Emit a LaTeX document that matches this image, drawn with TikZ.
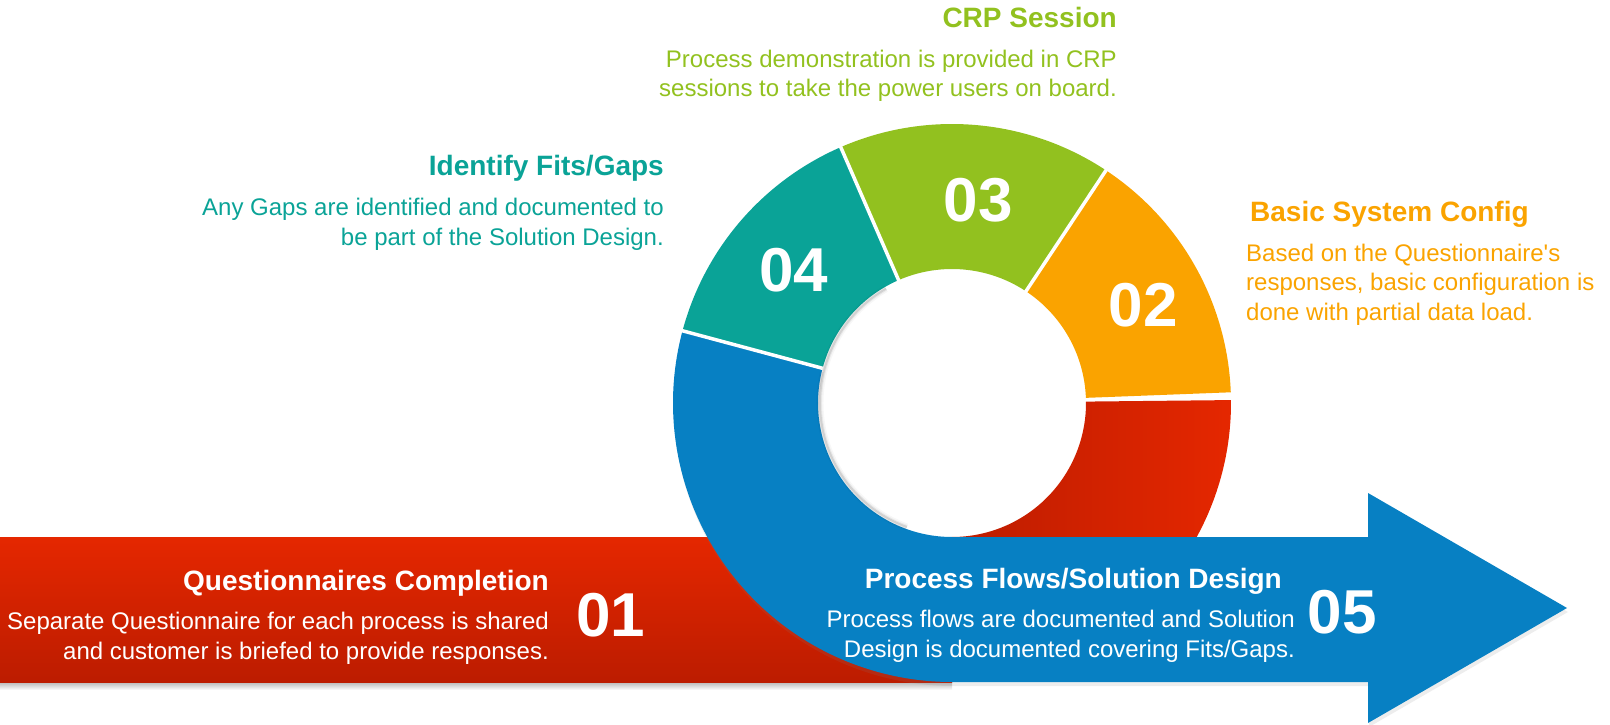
\documentclass[tikz,border=0pt]{standalone}
\usepackage{fontspec}
\setmainfont{Liberation Sans}
\usetikzlibrary{positioning,calc,shadows}
\definecolor{crpgreen}{HTML}{92C11F}
\definecolor{fitteal}{HTML}{0AA397}
\definecolor{cfgorange}{HTML}{FAA300}
\definecolor{flowblue}{HTML}{0780C3}
\definecolor{qred}{HTML}{E52700}
\definecolor{qreddark}{HTML}{BC1C00}
\tikzset{
  ttl/.style={font=\fontsize{28}{32}\selectfont\bfseries,inner sep=0pt},
  txt/.style={font=\fontsize{24}{29.5}\selectfont,inner sep=0pt},
  num/.style={font=\fontsize{62}{62}\selectfont\bfseries,text=white,inner sep=0pt},
  gap/.style={white,line width=3.5pt},
  shd/.style={drop shadow={opacity=0.14,shadow xshift=1pt,shadow yshift=-4pt}},
}

\begin{document}
\begin{tikzpicture}[x=1pt,y=1pt]
  \useasboundingbox (0,0) rectangle (1610,724);
  \coordinate (c) at (952,321);

  % step 01: red band entering the ring
  \shade[top color=black!28,bottom color=white] (0,34) rectangle (952,42);
  \shade[top color=qred,bottom color=qreddark] (0,42) rectangle (952,187);
  \shade[left color=qreddark,right color=qred] ($(c)+(-90:279)$) arc(-90:0.6:279)
        -- ($(c)+(0.6:134)$) arc(0.6:-90:134) -- cycle;

  % steps 02 to 04
  \foreach \a/\b/\col in {2.2/56.5/cfgorange,56.5/113.5/crpgreen,113.5/165/fitteal}{
    \fill[\col] ($(c)+(\a:279)$) arc(\a:\b:279) -- ($(c)+(\b:134)$) arc(\b:\a:134) -- cycle;}

  % step 05: blue ring part and arrow
  \fill[flowblue,shd] ($(c)+(165:279)$) arc(165:270:279) -- (1368,42) -- (1368,1)
        -- (1567,116) -- (1368,231) -- (1368,187) -- ($(c)+(-90:134)$) arc(270:165:134) -- cycle;

  \foreach \a in {56.5,113.5,165}{\draw[gap] ($(c)+(\a:130)$) -- ($(c)+(\a:283)$);}
  % soft shade inside the hole
  \foreach \w/\o in {2/0.10,4/0.06,7/0.03}{
    \draw[black,opacity=\o,line width=\w pt] ($(c)+(120:132)$) arc(120:250:132);}

  \node[num] (n01) at (611,109) {01};
  \node[num] (n02) at (1143,419) {02};
  \node[num] (n03) at (978,524) {03};
  \node[num] (n04) at (794,454) {04};
  \node[num] (n05) at (1342,112) {05};

  \node[ttl,text=crpgreen,anchor=base east] (crpT) at (1117,696.5) {CRP Session};
  \node[txt,text=crpgreen,align=right,below=22pt of crpT.base east,anchor=north east] (crpB)
       {Process demonstration is provided in CRP\\sessions to take the power users on board.};

  \node[ttl,text=fitteal,anchor=base east] (fitT) at (664,548) {Identify Fits/Gaps};
  \node[txt,text=fitteal,align=right,below=22pt of fitT.base east,anchor=north east] (fitB)
       {Any Gaps are identified and documented to\\be part of the Solution Design.};

  \node[ttl,text=cfgorange,anchor=base west] (cfgT) at (1250,502.5) {Basic System Config};
  \node[txt,text=cfgorange,align=left,below=22pt of cfgT.base west,anchor=north west,xshift=-4pt] (cfgB)
       {Based on the Questionnaire\textquotesingle s\\responses, basic configuration is\\done with partial data load.};

  \node[ttl,text=white,anchor=base east] (qT) at (549,134) {Questionnaires Completion};
  \node[txt,text=white,align=right,below=22pt of qT.base east,anchor=north east] (qB)
       {Separate Questionnaire for each process is shared\\and customer is briefed to provide responses.};

  \node[ttl,text=white,anchor=base east] (pfT) at (1282,136) {Process Flows/Solution Design};
  \node[txt,text=white,align=right,below=22pt of pfT.base east,anchor=north east,xshift=13pt] (pfB)
       {Process flows are documented and Solution\\Design is documented covering Fits/Gaps.};
\end{tikzpicture}
\end{document}
